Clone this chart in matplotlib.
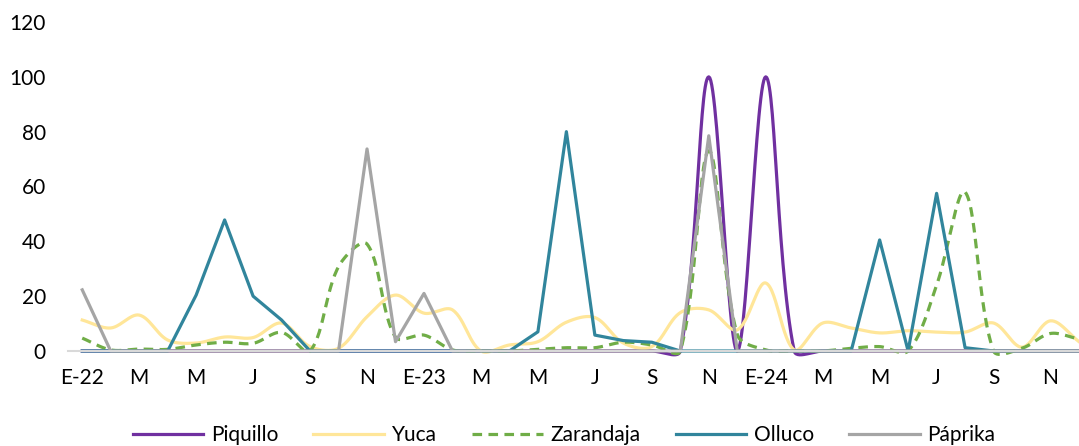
import numpy as np
import matplotlib
matplotlib.use("Agg")
import matplotlib.pyplot as plt

# Datos mensuales ene-2022 a dic-2024
meses = list(range(36))
etiquetas = ["E-22", "M", "M", "J", "S", "N",
             "E-23", "M", "M", "J", "S", "N",
             "E-24", "M", "M", "J", "S", "N"]

piquillo = [0, 0, 0, 0, 0, 0, 0, 0, 0, 0, 0, 0,
            0, 0, 0, 0, 0, 0, 0, 0, 0, 0, 100, 0,
            100, 0, 0, 0, 0, 0, 0, 0, 0, 0, 0, 0]
yuca = [11.3, 8.4, 13.1, 4.0, 2.9, 5.1, 4.9, 10.2, 1.6, 1.0, 12.5, 20.4,
        13.8, 15.0, 0, 2.2, 3.4, 10.5, 12.2, 2.9, 1.6, 14.0, 15.0, 7.7,
        24.8, 0.4, 10.2, 8.4, 6.6, 7.4, 6.9, 6.9, 10.2, 1.4, 11.0, 3.4]
zarandaja = [4.7, 0.4, 0.7, 0.6, 2.2, 3.2, 2.8, 6.8, 0, 30.8, 39.0, 5.0,
             5.8, 0.4, 0, 0, 0.6, 1.2, 1.2, 3.2, 2.2, 0, 73.0, 6.0,
             0.4, 0, 0, 1.0, 1.6, 0, 24.0, 58.0, 0, 1.0, 6.4, 4.3]
olluco = [0, 0, 0, 0, 20.4, 47.8, 20.0, 11.3, 0, 0, 0, 0,
          0, 0, 0, 0, 7.0, 80.0, 5.8, 3.8, 3.2, 0, 0, 0,
          0, 0, 0, 0, 40.5, 0, 57.5, 1.2, 0, 0, 0, 0]
paprika = [22.3, 0, 0, 0, 0, 0, 0, 0, 0, 0, 73.7, 3.4,
           21.0, 0, 0, 0, 0, 0, 0, 0, 0, 0, 78.5, 0,
           0, 0, 0, 0, 0, 0, 0, 0, 0, 0, 0, 0]

# escala aproximada en pixeles (para imitar el suavizado de Excel)
PX_MES = 28.48
PX_UNI = 2.74


def suavizar(x, y, n=30):
    # bezier con puntos de control proporcionales a la longitud de cada tramo
    p = np.column_stack([np.asarray(x, float) * PX_MES,
                         np.asarray(y, float) * PX_UNI])
    m = len(p)
    out = [p[0]]
    t = np.linspace(0, 1, n)[1:, None]
    for i in range(m - 1):
        a, b = p[i], p[i + 1]
        d_ab = np.hypot(*(b - a))
        if i > 0:
            d_pa = np.hypot(*(a - p[i - 1]))
            c1 = a + (b - p[i - 1]) * d_ab / (d_pa + d_ab) / 3
        else:
            c1 = a + (b - a) / 3
        if i + 2 < m:
            d_bn = np.hypot(*(p[i + 2] - b))
            c2 = b - (p[i + 2] - a) * d_ab / (d_ab + d_bn) / 3
        else:
            c2 = b - (b - a) / 3
        seg = ((1 - t) ** 3 * a + 3 * (1 - t) ** 2 * t * c1
               + 3 * (1 - t) * t ** 2 * c2 + t ** 3 * b)
        out.extend(seg)
    out = np.array(out)
    return out[:, 0] / PX_MES, out[:, 1] / PX_UNI


plt.rcParams["font.family"] = ["Lato", "DejaVu Sans"]

fig = plt.figure(figsize=(10.79, 4.46), dpi=100)
ax = fig.add_axes([68 / 1079, 95 / 446, 1 - 68 / 1079, 329 / 446])

lw = 2.3
xs, ys = suavizar(meses, piquillo)
ax.plot(xs, ys, color="#7030A0", lw=lw, label="Piquillo", clip_on=False)
xs, ys = suavizar(meses, yuca)
ax.plot(xs, ys, color="#FFE699", lw=lw, label="Yuca", clip_on=False)
xs, ys = suavizar(meses, zarandaja)
ax.plot(xs, ys, color="#70AD47", lw=lw, ls=(0, (3, 2)), label="Zarandaja",
        clip_on=False)
ax.plot(meses, olluco, color="#31859C", lw=lw, label="Olluco", clip_on=False)
ax.plot(meses, paprika, color="#A5A5A5", lw=lw, label="Páprika", clip_on=False)

ax.set_xlim(-0.5, 35)
ax.set_ylim(0, 120)
ax.set_yticks(range(0, 121, 20))
ax.set_xticks(meses[::2])
ax.set_xticklabels(etiquetas)

for s in ["top", "right", "left"]:
    ax.spines[s].set_visible(False)
ax.spines["bottom"].set_color("#D9D9D9")
ax.spines["bottom"].set_linewidth(1.5)
ax.tick_params(axis="both", length=0, labelsize=15, colors="black")
ax.tick_params(axis="y", pad=16)
ax.tick_params(axis="x", pad=12)

fig.legend(loc="center", bbox_to_anchor=(564 / 1079, 0.024), ncol=5,
           frameon=False, fontsize=15, handlelength=3.4, handletextpad=0.35,
           columnspacing=1.7)

fig.savefig("out.png", dpi=100)
